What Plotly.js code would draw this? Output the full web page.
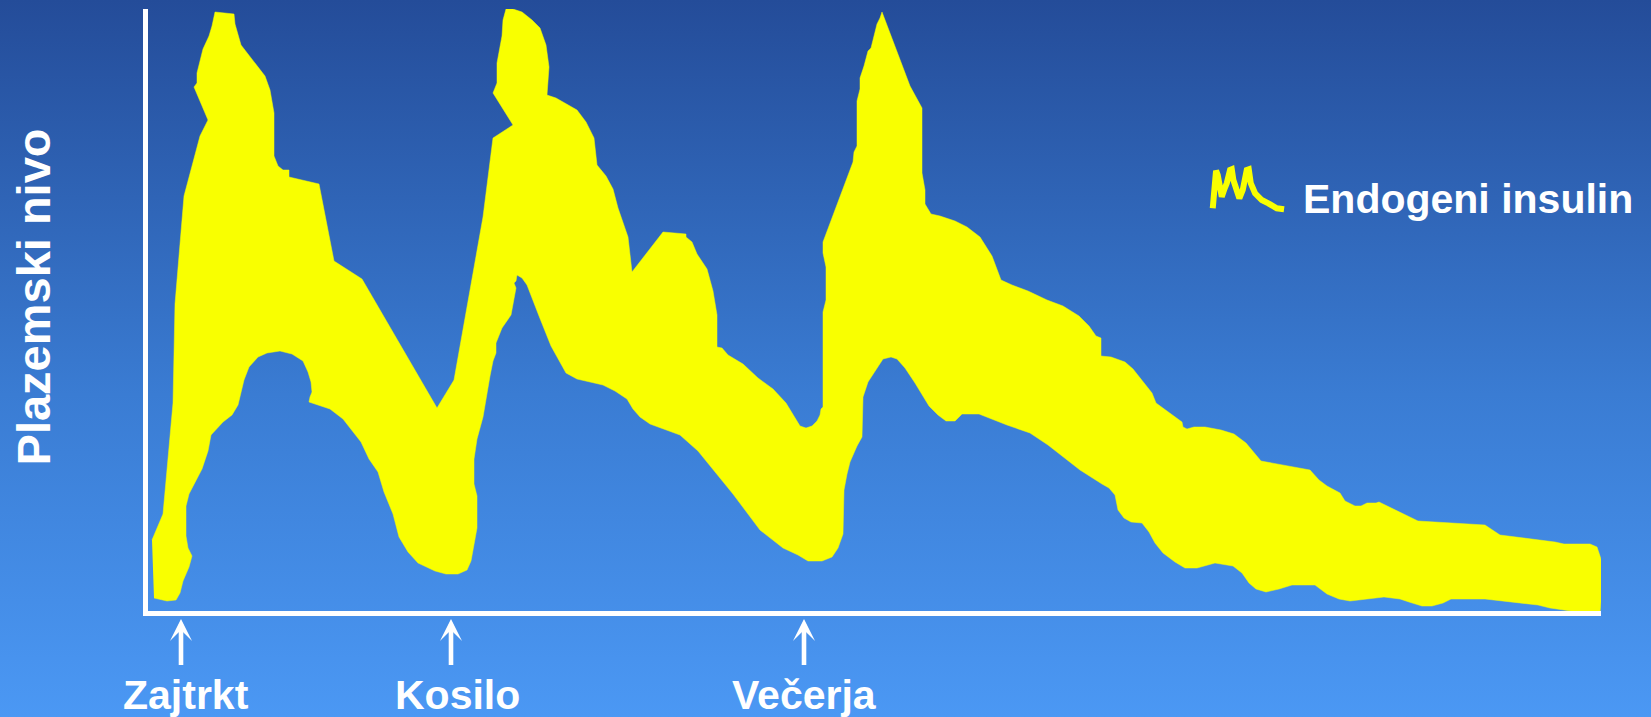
<!DOCTYPE html>
<html>
<head>
<meta charset="utf-8">
<script src="https://cdn.plot.ly/plotly-3.0.1.min.js"></script>
<style>
  html, body { margin: 0; padding: 0; }
  body {
    width: 1651px; height: 717px; overflow: hidden;
    background: linear-gradient(to bottom, #244c99 0%, #3a7cd3 55%, #4b98f4 100%);
  }
  #chart { width: 1651px; height: 717px; }
</style>
</head>
<body>
<div id="chart"></div>
<script>
// Endogenous insulin band over one day: the band is outlined by an upper
// edge (left to right, over the three meal peaks) and a lower edge.
// Time in minutes from the start of the axis, level in arbitrary units.
const upperTime = [7, 18, 28, 30, 39, 55, 63, 49, 52, 52, 58, 64, 67, 69, 70, 89, 90, 96, 102, 111,
  120, 125, 129, 129, 133, 138, 144, 144, 174, 189, 217, 292, 309, 338, 348, 368, 348, 352, 352, 357,
  358, 361, 368, 377, 387, 395, 401, 404, 402, 411, 422, 432, 441, 449, 452, 461, 468, 473, 483, 487,
  518, 541, 541, 547, 552, 562, 568, 572, 572, 577, 583, 598, 613, 628, 641, 655, 661, 667, 672, 675,
  676, 678, 678, 681, 681, 678, 678, 708, 709, 712, 712, 715, 715, 719, 723, 726, 729, 732, 735, 737,
  765, 777, 777, 780, 780, 786, 795, 810, 822, 835, 847, 856, 867, 883, 902, 918, 934, 944, 951, 956,
  956, 966, 980, 988, 1007, 1011, 1037, 1038, 1042, 1049, 1060, 1076, 1089, 1101, 1116, 1165, 1174, 1182, 1195, 1200,
  1210, 1216, 1222, 1231, 1234, 1273, 1340, 1355, 1410, 1419, 1445, 1452, 1458, 1458, 1456, 1455];
const upperLevel = [74, 100, 211, 310, 418, 478, 494, 527, 531, 541, 565, 578, 588, 596, 602, 600, 590, 569, 561, 550,
  538, 524, 501, 458, 448, 444, 444, 437, 430, 353, 335, 206, 234, 397, 476, 489, 521, 531, 551, 578,
  594, 605, 605, 602, 594, 586, 569, 547, 519, 516, 510, 504, 492, 476, 449, 438, 425, 406, 377, 342,
  382, 380, 377, 372, 360, 345, 323, 299, 267, 266, 259, 250, 236, 225, 211, 188, 186, 188, 193, 199,
  205, 207, 302, 314, 347, 361, 372, 452, 462, 468, 513, 525, 536, 548, 563, 566, 578, 590, 596, 602,
  528, 506, 441, 424, 410, 400, 398, 393, 387, 377, 358, 334, 329, 323, 314, 308, 298, 288, 278, 276,
  258, 257, 252, 245, 221, 211, 192, 187, 185, 187, 187, 184, 180, 171, 153, 144, 134, 128, 121, 113,
  108, 108, 111, 111, 112, 93, 89, 79, 72, 70, 70, 67, 49, 24, 12, 1];

const lowerTime = [9, 22, 31, 35, 38, 44, 47, 43, 41, 41, 44, 57, 63, 66, 72, 78, 87, 93, 99, 104,
  113, 122, 135, 147, 158, 163, 166, 167, 165, 164, 185, 198, 216, 224, 233, 239, 248, 254, 263, 273,
  290, 301, 313, 322, 326, 329, 332, 332, 329, 329, 332, 338, 345, 348, 351, 351, 357, 366, 371, 369,
  371, 372, 377, 382, 394, 406, 414, 421, 432, 458, 470, 482, 488, 495, 505, 535, 553, 588, 615, 638,
  653, 663, 677, 687, 693, 698, 699, 702, 705, 712, 717, 718, 723, 738, 746, 752, 760, 770, 784, 793,
  801, 810, 817, 834, 862, 885, 903, 935, 957, 964, 970, 973, 979, 986, 997, 1004, 1010, 1018, 1030, 1040,
  1052, 1070, 1088, 1097, 1104, 1111, 1121, 1134, 1147, 1170, 1182, 1194, 1205, 1239, 1255, 1264, 1277, 1287, 1298, 1306,
  1340, 1363, 1393, 1405, 1426];
const lowerLevel = [16, 13, 14, 21, 33, 47, 58, 66, 78, 108, 120, 145, 163, 179, 186, 192, 199, 209, 234, 247,
  257, 261, 263, 260, 253, 242, 232, 222, 217, 212, 205, 195, 172, 155, 142, 122, 100, 77, 62, 51,
  43, 40, 40, 44, 53, 68, 86, 118, 130, 155, 175, 197, 238, 253, 261, 271, 286, 299, 326, 331,
  333, 339, 336, 329, 298, 268, 253, 241, 235, 229, 223, 215, 205, 197, 190, 179, 163, 120, 84, 66,
  59, 53, 53, 57, 66, 80, 124, 140, 152, 168, 177, 217, 232, 255, 257, 255, 246, 231, 208, 199,
  193, 193, 200, 200, 189, 181, 169, 144, 130, 126, 119, 104, 96, 92, 91, 82, 71, 61, 52, 46,
  46, 51, 48, 41, 31, 25, 22, 25, 29, 29, 20, 15, 13, 17, 15, 12, 8, 8, 11, 15,
  15, 12, 9, 6, 3];

// Meals marked under the time axis
const mealLabels = ['Zajtrkt', 'Kosilo', 'Večerja'];
const mealTimes = [36, 306, 659];
const mealLabelShift = [5, 6, 0];

// Small squiggle used as the legend key
const iconTime = [7.7, 9.3, 11, 12.7, 14.3, 16.7, 19, 21.7, 25, 26.7, 28.3, 31.7, 34.3, 37.7, 41.7, 43.7,
  45.7, 50, 56.7, 63.3, 71.7, 79];
const iconLevel = [6.7, 30, 44.3, 40, 28.3, 18.3, 25, 31.7, 45, 45.7, 35, 21.7, 16.7, 25, 45, 45.7,
  31.7, 21.7, 15, 11.7, 6.7, 5.7];

const seriesName = 'Endogeni insulin';
const yTitle = 'Plazemski nivo';

const YELLOW = '#f9ff00';
const FONT = 'Liberation Sans, Arial, sans-serif';

const bandX = upperTime.concat(lowerTime.slice().reverse());
const bandY = upperLevel.concat(lowerLevel.slice().reverse());

const traces = [
  {
    type: 'scatter', mode: 'lines', x: bandX, y: bandY,
    fill: 'toself', fillcolor: YELLOW,
    line: { color: YELLOW, width: 0.5 },
    name: seriesName, hoverinfo: 'skip', showlegend: false,
    xaxis: 'x', yaxis: 'y'
  },
  {
    type: 'scatter', mode: 'lines', x: iconTime, y: iconLevel,
    line: { color: YELLOW, width: 6, shape: 'linear' },
    hoverinfo: 'skip', showlegend: false,
    xaxis: 'x2', yaxis: 'y2'
  }
];

const annotations = [];
mealTimes.forEach((t, i) => {
  annotations.push({
    x: t, xref: 'x', y: -0.0133, yref: 'paper',
    ax: 0, ay: 56, axref: 'pixel', ayref: 'pixel',
    showarrow: true, arrowhead: 3, arrowsize: 0.8, arrowwidth: 4.6,
    arrowcolor: '#ffffff'
  });
  annotations.push({
    x: t, xref: 'x', xshift: mealLabelShift[i],
    y: -0.0972, yref: 'paper', xanchor: 'center', yanchor: 'top',
    showarrow: false, text: '<b>' + mealLabels[i] + '</b>',
    font: { family: FONT, size: 41, color: '#ffffff' }
  });
});
annotations.push({
  x: -0.0785, xref: 'paper', y: 0.5224, yref: 'paper',
  xanchor: 'center', yanchor: 'middle', textangle: -90,
  showarrow: false, text: '<b>' + yTitle + '</b>',
  font: { family: FONT, size: 47, color: '#ffffff' }
});
annotations.push({
  x: 0.7935, xref: 'paper', y: 0.7259, yref: 'paper',
  xanchor: 'left', yanchor: 'top',
  showarrow: false, text: '<b>' + seriesName + '</b>',
  font: { family: FONT, size: 41, color: '#ffffff' }
});

const axisStyle = {
  showline: true, linecolor: '#ffffff', linewidth: 5,
  showgrid: false, zeroline: false, showticklabels: false, ticks: '',
  fixedrange: true
};

const layout = {
  width: 1651, height: 717,
  margin: { l: 148, r: 50, t: 9, b: 106 },
  paper_bgcolor: 'rgba(0,0,0,0)',
  plot_bgcolor: 'rgba(0,0,0,0)',
  showlegend: false,
  xaxis: Object.assign({ range: [3, 1456] }, axisStyle),
  yaxis: Object.assign({ range: [3, 605] }, axisStyle),
  xaxis2: { domain: [0.7275, 0.786], anchor: 'y2', range: [0, 85], visible: false, fixedrange: true },
  yaxis2: { domain: [0.6578, 0.7409], anchor: 'x2', range: [0, 50], visible: false, fixedrange: true },
  annotations: annotations
};

Plotly.newPlot('chart', traces, layout, { staticPlot: true, displayModeBar: false });
</script>
</body>
</html>
